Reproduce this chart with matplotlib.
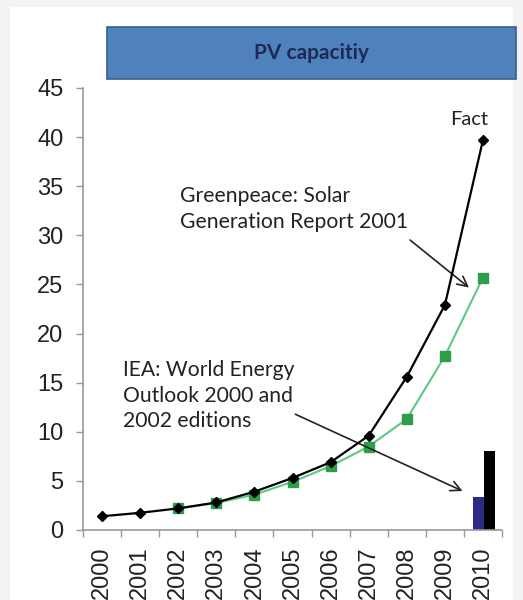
import numpy as np
import matplotlib
matplotlib.use("Agg")
import matplotlib.pyplot as plt
from matplotlib.patches import Rectangle

# PV capacity, GW: actual installations vs. earlier forecasts
years = ["2000", "2001", "2002", "2003", "2004", "2005",
         "2006", "2007", "2008", "2009", "2010"]
fact = [1.4, 1.75, 2.2, 2.8, 3.9, 5.3, 6.9, 9.6, 15.6, 22.9, 39.7]
greenpeace = [np.nan, np.nan, 2.2, 2.75, 3.6, 4.9, 6.5, 8.5, 11.3, 17.7, 25.7]
# IEA World Energy Outlook forecasts for 2010 (2000 and 2002 editions)
iea_2010 = [3.4, 8.0]

plt.rcParams["font.family"] = ["Liberation Sans", "DejaVu Sans"]
note_font = ["Lato", "DejaVu Sans"]

fig = plt.figure(figsize=(5.23, 6.0), dpi=100, facecolor="#f3f3f3")
# white slide area
fig.patches.append(Rectangle((10 / 523, 0), 503 / 523, 593 / 600,
                             transform=fig.transFigure, facecolor="white",
                             edgecolor="none", zorder=-10))

ax = fig.add_axes([83 / 523, 70 / 600, 419 / 523, 442 / 600])
ax.set_facecolor("none")
x = np.arange(len(years))

ax.plot(x, fact, color="black", lw=1.6, marker="D", ms=5.5,
        mfc="black", mec="black", zorder=4)
ax.plot(x, greenpeace, color="#5cc984", lw=1.5, marker="s", ms=7,
        mfc="#2e9d4c", mec="#2e9d4c", zorder=3)

bw = 0.29
ax.bar(x[-1] - bw / 2 + 0.03, iea_2010[0], width=bw, color="#2b2b86", zorder=2)
ax.bar(x[-1] + bw / 2 + 0.03, iea_2010[1], width=bw, color="black", zorder=2)

ax.set_xlim(-0.5, len(years) - 0.5)
ax.set_ylim(0, 45)
ax.set_yticks(range(0, 46, 5))

ax.set_xticks(x)
ax.set_xticklabels(years, rotation=90)
ax.set_xticks(np.arange(-0.5, len(years), 1), minor=True)
ax.tick_params(axis="x", which="major", length=0, pad=12, labelsize=17,
               labelcolor="#222222")
ax.tick_params(axis="x", which="minor", length=5, width=1, color="#999999")
ax.tick_params(axis="y", length=5, width=1, color="#999999", pad=9,
               labelsize=17, labelcolor="#222222")

for side in ["top", "right"]:
    ax.spines[side].set_visible(False)
for side in ["left", "bottom"]:
    ax.spines[side].set_color("#999999")
    ax.spines[side].set_linewidth(1.2)

# annotations
ax.text(9.63, 41.8, "Fact", ha="center", va="center", fontsize=14.5,
        family=note_font, color="#222222")
ax.text(2.05, 35.0, "Greenpeace: Solar\nGeneration Report 2001", ha="left",
        va="top", fontsize=15.2, family=note_font, color="#222222",
        linespacing=1.35)
ax.annotate("", xy=(9.69, 24.5), xytext=(8.03, 29.7),
            arrowprops=dict(arrowstyle="->", color="#222222", lw=1.2,
                            mutation_scale=18))
ax.text(0.55, 17.3, "IEA: World Energy\nOutlook 2000 and\n2002 editions",
        ha="left", va="top", fontsize=15.2, family=note_font, color="#222222",
        linespacing=1.35)
ax.annotate("", xy=(9.53, 3.85), xytext=(5.01, 11.9),
            arrowprops=dict(arrowstyle="->", color="#222222", lw=1.2,
                            mutation_scale=18))

# title banner
fig.patches.append(Rectangle((107 / 523, 1 - 79 / 600), 409 / 523, 52 / 600,
                             transform=fig.transFigure, facecolor="#4f81bd",
                             edgecolor="#3a5f8c", lw=1.2))
fig.text(311 / 523, 1 - 53 / 600, "PV capacitiy", ha="center", va="center",
         fontsize=15, fontweight="bold", family=note_font, color="#1c2a55")

fig.savefig("out.png", dpi=100, facecolor=fig.get_facecolor())
